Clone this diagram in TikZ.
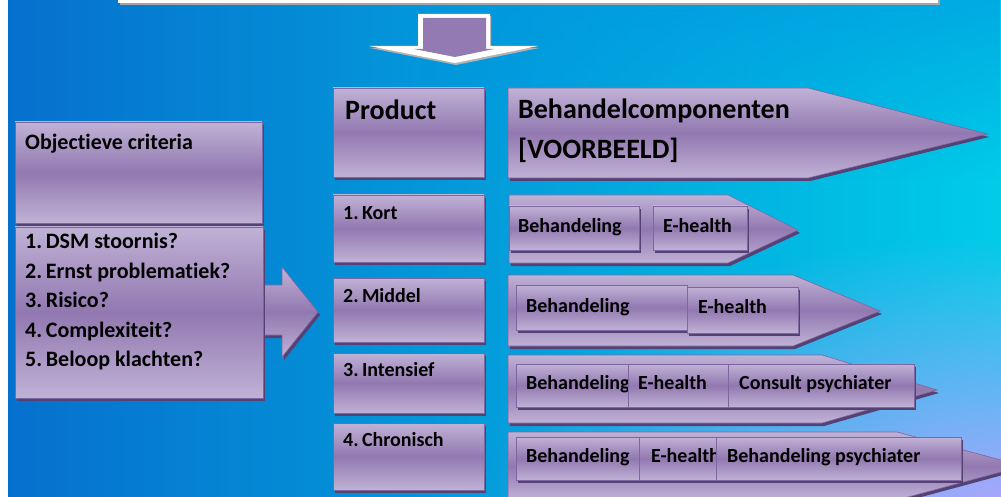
\documentclass[tikz,border=0pt]{standalone}
\usepackage{fontspec}
\setmainfont{Carlito}[Ligatures=NoCommon]
\usetikzlibrary{fadings}
\definecolor{bgL}{RGB}{6,112,206}
\definecolor{bgR}{RGB}{0,204,232}
\definecolor{bgT}{RGB}{0,150,224}
\definecolor{lav}{RGB}{172,166,252}
\definecolor{pl}{RGB}{192,178,214}
\definecolor{pd}{RGB}{146,120,176}
\definecolor{pb}{RGB}{126,102,160}
\definecolor{psh}{RGB}{84,66,116}
\definecolor{pflat}{RGB}{148,122,178}
\tikzfading[name=radfade, inner color=transparent!0, outer color=transparent!100]
\tikzset{
  pur/.style={top color=pl, bottom color=pl, middle color=pd, draw=pb, line width=0.6pt},
  lbl/.style={anchor=base west, inner sep=0pt, text=black, font=\bfseries\fontsize{#1}{#1}\selectfont},
}
\newcommand\pshp[1]{\fill[psh, shift={(2,3)}] #1; \shade[pur] #1;}
\begin{document}
\begin{tikzpicture}[x=1pt,y=-1pt]
\useasboundingbox (0,0) rectangle (1001,497);
% background
\fill[white] (0,0) rectangle (1001,497);
\shade[left color=bgL, right color=bgR] (8,0) rectangle (1001,497);
\begin{scope}
  \clip (8,0) rectangle (1001,497);
  \fill[bgT, opacity=0.6, path fading=south] (400,0) rectangle (1001,180);
  \fill[lav, path fading=radfade] (1001,505) ellipse (520 and 270);
\end{scope}
% top white box
\fill[black!35] (120,0) rectangle (940,5);
\fill[white] (118,0) rectangle (938,3);
% down arrow
\fill[black!30, shift={(1,2)}] (418,14) -- (490,14) -- (490,46) -- (538,46) -- (455,63) -- (369,46) -- (418,46) -- cycle;
\fill[white] (418,14) -- (490,14) -- (490,46) -- (538,46) -- (455,63) -- (369,46) -- (418,46) -- cycle;
\fill[pflat] (423,18) -- (486,18) -- (486,49) -- (494,49) -- (455,57) -- (414,49) -- (423,49) -- cycle;
% left side
\pshp{(255,285) -- (282,285) -- (282,267) -- (318,312) -- (282,357) -- (282,335) -- (255,335) -- cycle}
\pshp{(15,122) rectangle (262,223)}
\pshp{(15,227) rectangle (263,398)}
\node[lbl=22] (obj) at (25,150) {Objectieve criteria};
\node[lbl=22] (c1) at (25,248) {1.\,DSM stoornis?};
\node[lbl=22] (c2) at (25,278) {2.\,Ernst problematiek?};
\node[lbl=22] (c3) at (25,307) {3.\,Risico?};
\node[lbl=22] (c4) at (25,337) {4.\,Complexiteit?};
\node[lbl=22] (c5) at (25,366) {5.\,Beloop klachten?};
% product column
\pshp{(333,88) rectangle (484,177)}
\pshp{(333,195) rectangle (484,262)}
\pshp{(333,278) rectangle (484,342)}
\pshp{(333,353) rectangle (484,413)}
\pshp{(333,423) rectangle (484,490)}
\node[lbl=28] (prod) at (345,120) {Product};
\node[lbl=20] (p1) at (343,219) {1.\,Kort};
\node[lbl=20] (p2) at (343,302) {2.\,Middel};
\node[lbl=20] (p3) at (343,376) {3.\,Intensief};
\node[lbl=20] (p4) at (343,446) {4.\,Chronisch};
% component arrows
\pshp{(508,88) -- (808,88) -- (987,134) -- (808,178) -- (508,178) -- cycle}
\node[lbl=28] (bc1) at (518,119) {Behandelcomponenten};
\node[lbl=28] (bc2) at (518,159) {[VOORBEELD]};
% row 1
\pshp{(509,195) -- (728,195) -- (798,230) -- (728,263) -- (509,263) -- cycle}
\pshp{(509,206) rectangle (639,250)}
\pshp{(653,206) rectangle (747,250)}
\node[lbl=20] (r1a) at (518,233) {Behandeling};
\node[lbl=20] (r1b) at (663,233) {E-health};
% row 2
\pshp{(508,275) -- (793,275) -- (880,311) -- (793,346) -- (508,346) -- cycle}
\pshp{(516,285) rectangle (687,330)}
\pshp{(687,287) rectangle (798,333)}
\node[lbl=20] (r2a) at (526,312) {Behandeling};
\node[lbl=20] (r2b) at (698,313) {E-health};
% row 3
\pshp{(508,355) -- (822,355) -- (937,390) -- (822,423) -- (508,423) -- cycle}
\pshp{(516,364) rectangle (628,407)}
\node[lbl=20] (r3a) at (526,389) {Behandeling};
\pshp{(628,364) rectangle (728,407)}
\node[lbl=20] (r3b) at (638,389) {E-health};
\pshp{(728,364) rectangle (914,407)}
\node[lbl=20] (r3c) at (739,389) {Consult psychiater};
% row 4
\pshp{(508,432) -- (897,432) -- (1023,466) -- (897,500) -- (508,500) -- cycle}
\pshp{(516,437) rectangle (639,480)}
\node[lbl=20] (r4a) at (526,462) {Behandeling};
\pshp{(639,437) rectangle (716,480)}
\node[lbl=20] (r4b) at (651,462) {E-health};
\pshp{(716,437) rectangle (961,480)}
\node[lbl=20] (r4c) at (727,462) {Behandeling psychiater};
\end{tikzpicture}
\end{document}
